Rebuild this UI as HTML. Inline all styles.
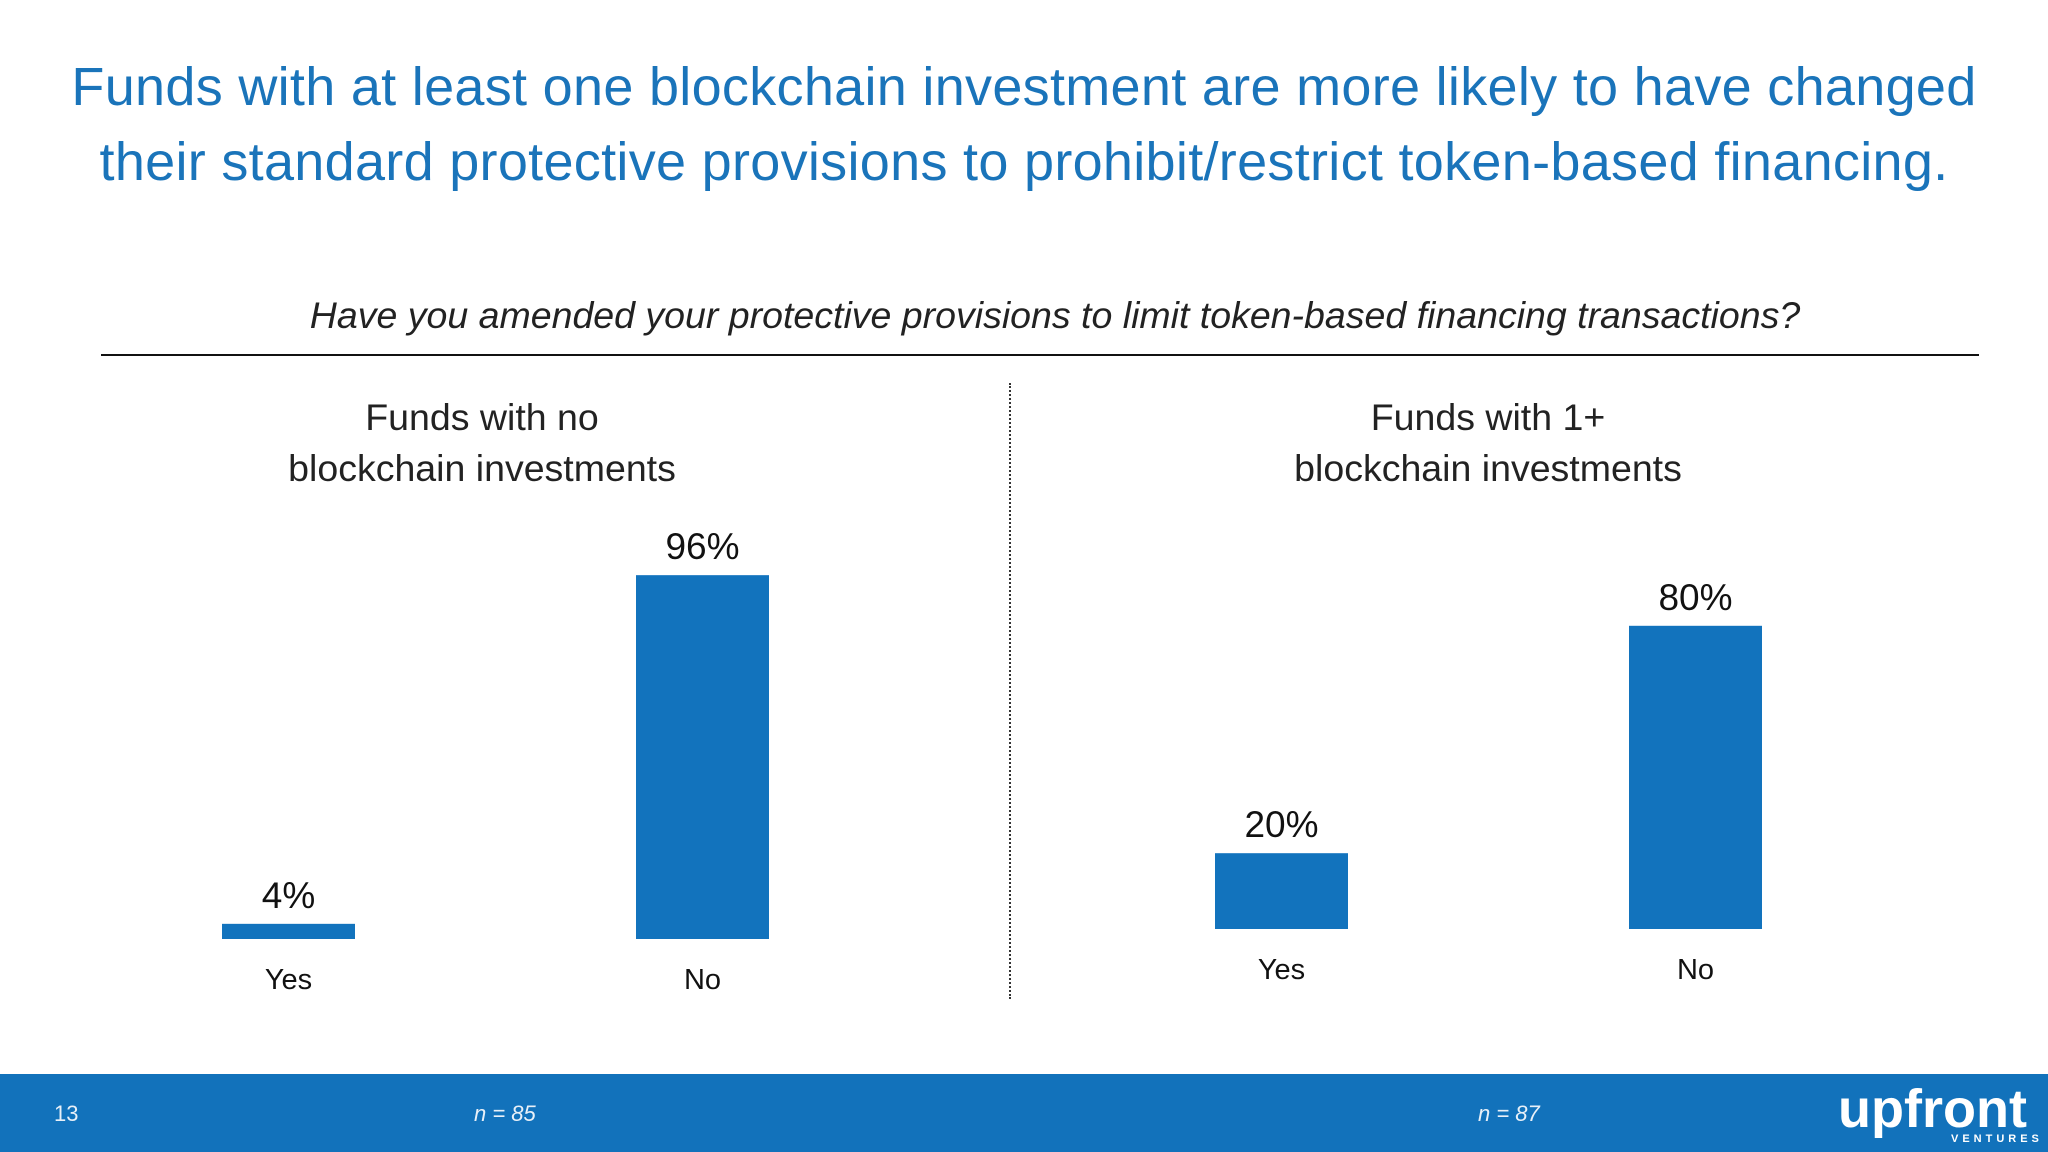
<!DOCTYPE html>
<html><head><meta charset="utf-8"><style>
body{margin:0;width:2048px;height:1152px;background:#fff;position:relative;overflow:hidden;font-family:"Liberation Sans",sans-serif}
.t{position:absolute;white-space:nowrap}
.c{transform:translateX(-50%);text-align:center}
</style></head><body>
<div class="t c" style="left:1024px;top:50px;font-size:54px;line-height:75px;color:#1a74ba;letter-spacing:0.3px">Funds with at least one blockchain investment are more likely to have changed<br>their standard protective provisions to prohibit/restrict token-based financing.</div>
<div class="t c" style="left:1055px;top:294px;font-size:37.5px;font-style:italic;color:#222">Have you amended your protective provisions to limit token-based financing transactions?</div>
<div style="position:absolute;left:101px;top:354px;width:1878px;height:2px;background:#111"></div>
<div style="position:absolute;left:1009px;top:383px;height:616px;border-left:2px dotted #333"></div>
<div class="t c" style="left:482px;top:392px;font-size:37.5px;line-height:51px;color:#222">Funds with no<br>blockchain investments</div>
<div class="t c" style="left:1488px;top:392px;font-size:37.5px;line-height:51px;color:#222">Funds with 1+<br>blockchain investments</div>
<svg id="chart" width="2048" height="1152" style="position:absolute;left:0;top:0"></svg>
<div style="position:absolute;left:0;top:1074px;width:2048px;height:78px;background:#1272bb"></div>
<div class="t" style="left:54px;top:1101px;font-size:22px;color:#e8f0f8">13</div>
<div class="t" style="left:474px;top:1101px;font-size:22px;font-style:italic;color:#e8f0f8">n = 85</div>
<div class="t" style="left:1478px;top:1101px;font-size:22px;font-style:italic;color:#e8f0f8">n = 87</div>
<div class="t" style="left:1838px;top:1078px;font-size:54px;font-weight:bold;color:#fff;letter-spacing:0px">upfront</div>
<div class="t" style="left:1951px;top:1133px;font-size:11px;font-weight:bold;color:#fff;letter-spacing:4px">VENTURES</div>
<script>
const categories=["Yes","No","Yes","No"];
const values=[4,96,20,80];
const labels=["4%","96%","20%","80%"];
const svg=document.getElementById('chart');
const NS='http://www.w3.org/2000/svg';
const xLeft=[222,636,1215,1629];
const baseline=[939,939,929,929];
const pxPerPct=3.79;
function y(v,i){return baseline[i]-v*pxPerPct;}
for(let i=0;i<values.length;i++){
 const r=document.createElementNS(NS,'rect');
 r.setAttribute('x',xLeft[i]);r.setAttribute('width',133);
 r.setAttribute('y',y(values[i],i));r.setAttribute('height',baseline[i]-y(values[i],i));
 r.setAttribute('fill','#1273bd');
 
 
 svg.appendChild(r);
 const t=document.createElementNS(NS,'text');
 t.setAttribute('x',xLeft[i]+66.5);t.setAttribute('y',y(values[i],i)-16);
 t.setAttribute('text-anchor','middle');t.setAttribute('font-size','37');t.setAttribute('fill','#111');
 t.textContent=labels[i];
 
 
 svg.appendChild(t);
 const c=document.createElementNS(NS,'text');
 c.setAttribute('x',xLeft[i]+66.5);c.setAttribute('y',baseline[i]+50);
 c.setAttribute('text-anchor','middle');c.setAttribute('font-size','29');c.setAttribute('fill','#111');
 c.textContent=categories[i];
 
 
 svg.appendChild(c);
}
</script>
</body></html>
